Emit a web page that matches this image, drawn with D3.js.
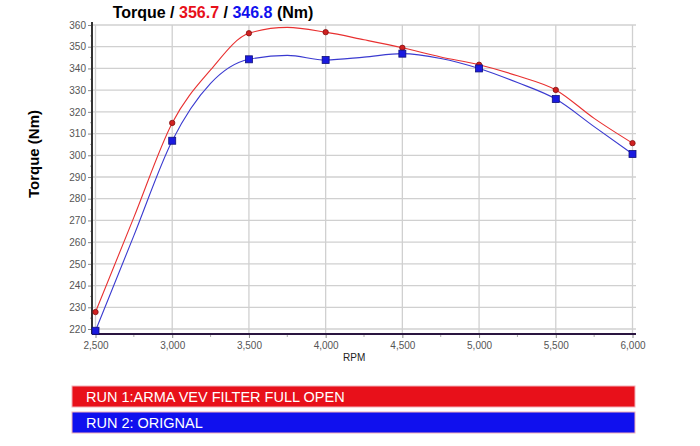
<!DOCTYPE html>
<html><head><meta charset="utf-8">
<script src="https://cdn.jsdelivr.net/npm/d3@7"></script>
<style>body{margin:0;background:#fff;} svg{display:block;font-family:"Liberation Sans",Arial,sans-serif;}</style>
</head><body><svg id="c" width="700" height="446"></svg>
<script>
// Marker data (every 500 rpm)
const rpm = [2500, 3000, 3500, 4000, 4500, 5000, 5500, 6000];
const run1 = [227.8, 314.9, 356.2, 356.7, 349.5, 341.7, 330.1, 305.6];
const run2 = [219.2, 306.7, 344.2, 343.9, 346.8, 340.0, 325.9, 300.6];
// Trace data (every 250 rpm)
const traceRpm = [2500, 2750, 3000, 3250, 3500, 3750, 4000, 4250, 4500, 4750, 5000, 5250, 5500, 5750, 6000];
const trace1 = [227.8, 271.4, 314.9, 339.3, 356.2, 358.9, 356.7, 353.2, 349.5, 345.3, 341.7, 336.6, 330.1, 317.0, 305.6];
const trace2 = [219.2, 263.0, 306.7, 333.1, 344.2, 346.0, 343.9, 345.2, 346.8, 344.6, 340.0, 333.5, 325.9, 313.2, 300.6];
const xTicks = [2500, 3000, 3500, 4000, 4500, 5000, 5500, 6000];
const yTicks = [220, 230, 240, 250, 260, 270, 280, 290, 300, 310, 320, 330, 340, 350, 360];
const legendLabels = ["RUN 1:ARMA VEV FILTER FULL OPEN", "RUN 2: ORIGNAL"];
const colors = ["#e8101a", "#1010ee"];

(function () {
const svg = d3.select("#c");
const x = d3.scaleLinear().domain([2500, 6000]).range([95.5, 632.5]);
const y = d3.scaleLinear().domain([220, 360]).range([329, 25]);
const pLeft = 92, pRight = 636, pBottom = y(217.7), pTop = y(360);

// grid
const g = svg.append("g");
g.selectAll(".hg").data(yTicks).join("line")
  .attr("x1", pLeft).attr("x2", pRight).attr("y1", d => y(d)).attr("y2", d => y(d))
  .attr("stroke", "#d0d0d0").attr("stroke-width", 1.3);
g.selectAll(".vg").data(xTicks).join("line")
  .attr("x1", d => x(d)).attr("x2", d => x(d)).attr("y1", pTop).attr("y2", pBottom)
  .attr("stroke", "#d0d0d0").attr("stroke-width", 1.3);

// y axis
const yAxis = d3.axisLeft(y).tickValues(yTicks).tickSize(4).tickPadding(2).tickFormat(d3.format("d"));
const ya = svg.append("g").attr("transform", `translate(${pLeft},0)`).call(yAxis);
ya.select(".domain").remove();
ya.selectAll("text").attr("fill", "#555").style("font-size", "10px");
ya.selectAll(".tick line").attr("stroke", "#888");
const yMinor = d3.range(225, 360, 10);
svg.append("g").selectAll("line").data(yMinor).join("line")
  .attr("x1", pLeft - 2).attr("x2", pLeft).attr("y1", d => y(d)).attr("y2", d => y(d)).attr("stroke", "#aaa");
svg.append("line").attr("x1", pLeft).attr("x2", pLeft).attr("y1", pTop - 3).attr("y2", pBottom)
  .attr("stroke", "#333").attr("stroke-width", 2);

// x axis
const xAxis = d3.axisBottom(x).tickValues(xTicks).tickSize(4).tickPadding(4).tickFormat(d3.format(","));
const xa = svg.append("g").attr("transform", `translate(0,${pBottom})`).call(xAxis);
xa.select(".domain").remove();
xa.selectAll("text").attr("fill", "#555").style("font-size", "10px");
xa.selectAll(".tick line").attr("stroke", "#888");
const xMinor = d3.range(2750, 6000, 500);
svg.append("g").selectAll("line").data(xMinor).join("line")
  .attr("x1", d => x(d)).attr("x2", d => x(d)).attr("y1", pBottom).attr("y2", pBottom + 3).attr("stroke", "#aaa");
svg.append("line").attr("x1", pLeft).attr("x2", pRight).attr("y1", pBottom).attr("y2", pBottom)
  .attr("stroke", "#2a1540").attr("stroke-width", 2);

svg.append("text").attr("x", 343).attr("y", 361).text("RPM")
  .attr("font-size", "10px").attr("fill", "#222");

// lines
const line = d3.line().x(d => x(d[0])).y(d => y(d[1])).curve(d3.curveMonotoneX);
svg.append("path").datum(traceRpm.map((r, i) => [r, trace2[i]])).attr("d", line)
  .attr("fill", "none").attr("stroke", "#3a3ad0").attr("stroke-width", 1.1);
svg.append("path").datum(traceRpm.map((r, i) => [r, trace1[i]])).attr("d", line)
  .attr("fill", "none").attr("stroke", "#e83030").attr("stroke-width", 1.1);

// markers
svg.append("g").selectAll("circle").data(rpm.map((r, i) => [r, run1[i]])).join("circle")
  .attr("cx", d => x(d[0])).attr("cy", d => y(d[1])).attr("r", 2.7)
  .attr("fill", "#d02020").attr("stroke", "#801010").attr("stroke-width", 0.8);
svg.append("g").selectAll("rect").data(rpm.map((r, i) => [r, run2[i]])).join("rect")
  .attr("x", d => x(d[0]) - 3.5).attr("y", d => y(d[1]) - 3.5).attr("width", 7).attr("height", 7)
  .attr("fill", "#1a1ae0").attr("stroke", "#10107a").attr("stroke-width", 0.8);

// title
const t = svg.append("text").attr("x", 213).attr("y", 18).attr("text-anchor", "middle")
  .attr("font-size", "16px").attr("font-weight", "bold");
t.append("tspan").text("Torque / ").attr("fill", "#000");
t.append("tspan").text(d3.max(run1).toFixed(1)).attr("fill", colors[0]);
t.append("tspan").text(" / ").attr("fill", "#000");
t.append("tspan").text(d3.max(run2).toFixed(1)).attr("fill", colors[1]);
t.append("tspan").text(" (Nm)").attr("fill", "#000");

svg.append("text").attr("transform", "translate(39,154) rotate(-90)").attr("text-anchor", "middle")
  .attr("font-size", "15px").attr("font-weight", "bold").text("Torque (Nm)");

// legend
const lg = svg.append("g").selectAll("g").data(legendLabels).join("g")
  .attr("transform", (d, i) => `translate(72,${386 + i * 26})`);
lg.append("rect").attr("width", 563).attr("height", 21)
  .attr("fill", (d, i) => colors[i]).attr("stroke", "#f2b0b8").attr("stroke-width", 1);
lg.append("text").attr("x", 14).attr("y", 15.5).text(d => d)
  .attr("fill", "#fff").attr("font-size", "14.5px");
})();
</script></body></html>
